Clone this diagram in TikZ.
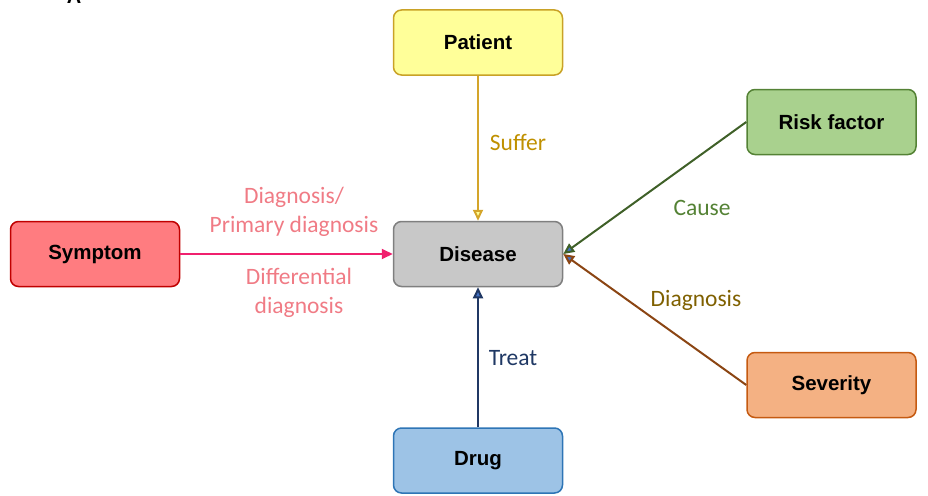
\documentclass[tikz,border=0pt]{standalone}
\usepackage{fontspec}
\setmainfont{Carlito}
\newfontfamily\nodefont{Liberation Sans}
\usetikzlibrary{arrows.meta}
\definecolor{patfill}{HTML}{FFFF99}
\definecolor{patdraw}{HTML}{C9A227}
\definecolor{disfill}{HTML}{C8C8C8}
\definecolor{disdraw}{HTML}{7F7F7F}
\definecolor{drugfill}{HTML}{9DC3E6}
\definecolor{drugdraw}{HTML}{2E75B6}
\definecolor{symfill}{HTML}{FF7C80}
\definecolor{symdraw}{HTML}{C00000}
\definecolor{riskfill}{HTML}{A9D18E}
\definecolor{riskdraw}{HTML}{548235}
\definecolor{sevfill}{HTML}{F4B183}
\definecolor{sevdraw}{HTML}{C55A11}
\definecolor{symline}{HTML}{F0206E}
\definecolor{symlbl}{HTML}{F07B85}
\definecolor{sufline}{HTML}{D4A52A}
\definecolor{suflbl}{HTML}{BF9000}
\definecolor{causeline}{HTML}{3F6028}
\definecolor{causelbl}{HTML}{548235}
\definecolor{diagline}{HTML}{8B4513}
\definecolor{diaglbl}{HTML}{7F6000}
\definecolor{treatline}{HTML}{203864}
\definecolor{treatlbl}{HTML}{1F3864}
\definecolor{tipblue}{HTML}{4472C4}
\tikzset{
  box/.style={rectangle, rounded corners=8pt, line width=1.5pt, minimum width=169pt, minimum height=65pt, inner sep=0pt, font=\nodefont\bfseries\fontsize{20.5}{24}\selectfont, text=black},
  lbl/.style={font=\fontsize{23.5}{29}\selectfont, align=center, inner sep=0pt},
  conn/.style={line width=2pt},
}
\begin{document}
\begin{tikzpicture}[x=1pt,y=-1pt]
\useasboundingbox (0,0) rectangle (928,495);
\node[anchor=base, font=\nodefont\bfseries\fontsize{20}{24}\selectfont] (letterA) at (74,4) {A};
\node[box, fill=patfill, draw=patdraw] (patient) at (478,42.5) {Patient};
\node[box, fill=disfill, draw=disdraw] (disease) at (478,254) {Disease};
\node[box, fill=drugfill, draw=drugdraw] (drug) at (478,460.5) {Drug};
\node[box, fill=symfill, draw=symdraw] (symptom) at (95,254) {Symptom};
\node[box, fill=riskfill, draw=riskdraw] (risk) at (831.5,122) {Risk factor};
\node[box, fill=sevfill, draw=sevdraw] (severity) at (831.5,385) {Severity};

\draw[conn, draw=sufline, -{Triangle[length=11pt,width=10pt,fill=patfill]}] (patient) -- (disease);
\draw[conn, draw=treatline, -{Triangle[length=11pt,width=10pt,fill=tipblue]}] (drug) -- (disease);
\draw[conn, draw=symline, -{Triangle[length=11pt,width=10pt,fill=symline]}] (symptom) -- (disease);
\draw[conn, draw=causeline, -{Triangle[length=11pt,width=10pt,fill=tipblue]}] (risk.west) -- (disease.east);
\draw[conn, draw=diagline, -{Triangle[length=11pt,width=10pt,fill=tipblue]}] (severity.west) -- (disease.east);

\node[lbl, text=suflbl] (lsuffer) at (518,142) {Suffer};
\node[lbl, text=symlbl] (lprim) at (294,211.5) {Diagnosis/\\Primary diagnosis};
\node[lbl, text=symlbl] (ldiff) at (299,292.5) {Differential\\diagnosis};
\node[lbl, text=causelbl] (lcause) at (702,208) {Cause};
\node[lbl, text=diaglbl] (ldiag) at (696,300) {Diagnosis};
\node[lbl, text=treatlbl] (ltreat) at (513,358) {Treat};
\end{tikzpicture}
\end{document}
